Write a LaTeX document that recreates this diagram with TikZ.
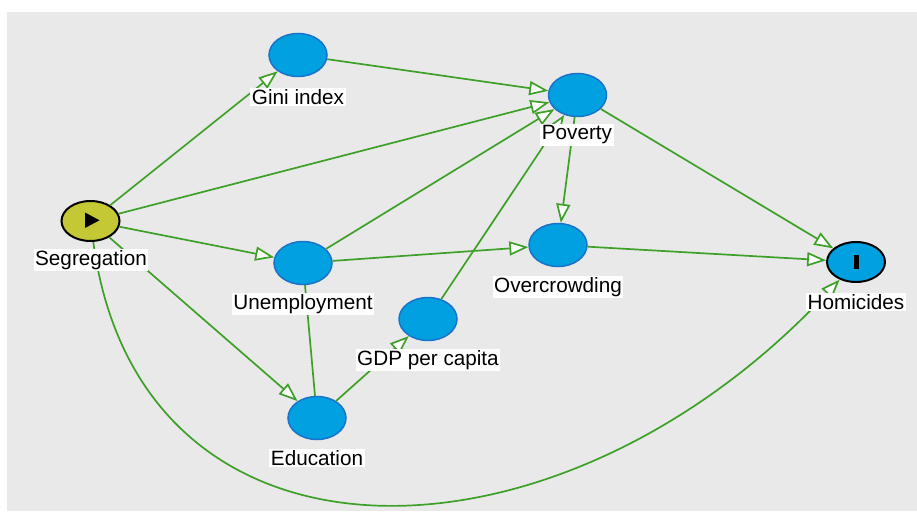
\documentclass[tikz,border=0pt]{standalone}
\usepackage{fontspec}
\setmainfont{Liberation Sans}
\usetikzlibrary{shapes.geometric}
\usetikzlibrary{arrows.meta}
\definecolor{bggray}{RGB}{233,233,233}
\definecolor{varblue}{RGB}{0,160,225}
\definecolor{varrim}{RGB}{25,115,200}
\definecolor{segyellow}{RGB}{196,200,52}
\definecolor{arcgreen}{RGB}{62,160,40}

\begin{document}
\begin{tikzpicture}[x=1pt,y=-1pt,
  var/.style={ellipse,minimum width=58pt,minimum height=43pt,inner sep=0pt,fill=varblue,draw=varrim,line width=1.5pt},
  keyvar/.style={var,draw=black,line width=2pt,minimum height=40pt},
  lbl/.style={fill=white,inner sep=1.5pt,font=\fontsize{20.7}{23}\selectfont},
  arc/.style={draw=arcgreen,line width=1.7pt,-{Triangle[fill=white,length=19pt,width=14pt]}}]
\useasboundingbox (0,0) rectangle (917,513);
\fill [bggray] (7,12) rectangle (917,511);
% variables
\node [keyvar,fill=segyellow] (seg) at (90.5,221) {};
\node [var] (gini) at (298,55) {};
\node [var] (pov) at (577.5,95) {};
\node [var] (unemp) at (303,263) {};
\node [var] (over) at (558,245) {};
\node [var] (gdp) at (428,319) {};
\node [var] (edu) at (317,418) {};
\node [keyvar] (hom) at (856,262) {};
% icons
\fill (85,212.5) -- (85,228) -- (99.5,220.3) -- cycle;
\fill (854,255) rectangle (859,269);
% arcs
\draw [arc] (seg) -- (gini);
\draw [arc] (seg) -- (pov);
\draw [arc] (seg) -- (unemp);
\draw [arc] (seg) -- (edu);
\draw [arc] (seg) .. controls (140,590) and (560,580) .. (hom);
\draw [arc] (gini) -- (pov);
\draw [arc] (unemp) -- (pov);
\draw [arc] (gdp) -- (pov);
\draw [arc] (pov) -- (over);
\draw [arc] (pov) -- (hom);
\draw [arc] (unemp) -- (over);
\draw [arc] (over) -- (hom);
\draw [arc] (edu) -- (gdp);
\draw [arc,-] (edu) -- (unemp);
% labels
\node [lbl] (segL) at (91,260) {Segregation};
\node [lbl] (giniL) at (298,97) {Gini index};
\node [lbl] (povL) at (577,135) {Poverty};
\node [lbl] (unempL) at (303,304) {Unemployment};
\node [lbl] (overL) at (558,287) {Overcrowding};
\node [lbl] (gdpL) at (428,360) {GDP per capita};
\node [lbl] (eduL) at (317,458) {Education};
\node [lbl] (homL) at (856,302) {Homicides};
\end{tikzpicture}
\end{document}
